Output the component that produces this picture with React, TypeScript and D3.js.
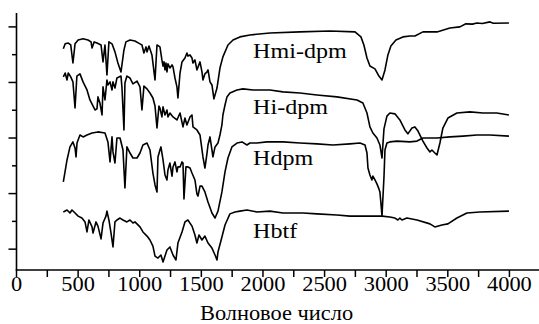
import React from "react";
import * as d3 from "d3";

// x: wavenumber (cm^-1), y: relative transmittance (arbitrary units, offset per trace)
const hmiDpm: [number, number][] = [
  [380, 82.1], [395, 83.9], [420, 84.2], [440, 83.5], [458, 77.0], [475, 83.9], [500, 85.3], [540, 85.7],
  [580, 85.3], [605, 84.6], [613, 82.4], [630, 84.6], [653, 84.2], [686, 83.5], [702, 77.4], [718, 83.5],
  [734, 72.7], [750, 84.6], [775, 83.9], [799, 81.0], [823, 77.0], [848, 73.8], [872, 81.7], [888, 84.6],
  [921, 85.3], [961, 84.9], [1002, 83.9], [1018, 83.5], [1034, 80.6], [1051, 82.8], [1059, 81.0], [1075, 83.1],
  [1099, 79.9], [1124, 70.9], [1140, 83.5], [1164, 82.8], [1180, 78.1], [1189, 75.9], [1197, 77.4], [1205, 74.5],
  [1213, 77.0], [1221, 73.8], [1229, 76.7], [1245, 75.2], [1262, 76.3], [1270, 75.6], [1286, 71.6], [1302, 68.4],
  [1310, 64.4], [1327, 73.4], [1343, 77.4], [1367, 78.8], [1383, 80.6], [1391, 79.5], [1408, 79.9], [1424, 78.8],
  [1432, 77.0], [1448, 78.1], [1464, 74.5], [1489, 77.4], [1505, 73.8], [1513, 70.9], [1529, 73.1], [1546, 73.8],
  [1554, 74.5], [1570, 70.2], [1586, 69.1], [1602, 64.1], [1627, 68.0], [1651, 75.2], [1675, 79.2], [1716, 83.5],
  [1757, 85.3], [1813, 86.4], [1894, 87.1], [2057, 87.8], [2300, 88.2], [2544, 88.5], [2747, 88.2], [2795, 86.4],
  [2819, 83.5], [2844, 78.8], [2868, 75.9], [2909, 74.9], [2941, 72.3], [2966, 70.9], [2990, 74.5], [3014, 79.9],
  [3038, 83.1], [3079, 85.3], [3136, 86.4], [3193, 86.7], [3233, 86.7], [3298, 88.2], [3412, 88.2], [3517, 89.6],
  [3598, 90.0], [3647, 91.1], [3700, 91.0], [3736, 91.4], [3780, 91.2], [3842, 91.8], [3870, 91.3], [3996, 91.4],
];

const hiDpm: [number, number][] = [
  [380, 72.0], [395, 73.4], [410, 70.9], [420, 73.4], [440, 72.0], [458, 70.2], [475, 60.8], [490, 72.3],
  [515, 73.1], [540, 70.2], [572, 67.3], [596, 63.7], [637, 60.1], [653, 60.5], [661, 64.8], [677, 62.6],
  [694, 58.3], [702, 68.4], [718, 63.7], [734, 70.9], [742, 69.1], [759, 70.2], [775, 67.3], [783, 70.2],
  [799, 68.0], [815, 71.6], [848, 72.3], [856, 68.0], [872, 52.9], [880, 69.8], [896, 72.3], [921, 71.6],
  [945, 69.5], [978, 70.5], [1002, 68.4], [1018, 60.1], [1034, 68.7], [1059, 67.7], [1083, 66.2], [1107, 64.4],
  [1124, 61.5], [1140, 53.6], [1156, 61.5], [1164, 60.8], [1180, 57.6], [1189, 61.2], [1205, 58.3], [1221, 60.1],
  [1229, 57.6], [1245, 59.0], [1270, 57.6], [1302, 56.5], [1327, 59.0], [1351, 54.0], [1367, 57.2], [1383, 54.7],
  [1408, 57.6], [1424, 58.3], [1432, 54.0], [1464, 52.9], [1489, 51.1], [1513, 43.2], [1529, 39.2], [1546, 44.6],
  [1554, 47.5], [1570, 50.4], [1586, 45.7], [1594, 43.2], [1611, 46.8], [1635, 48.2], [1651, 51.1], [1667, 54.7],
  [1675, 58.3], [1692, 61.9], [1708, 64.8], [1732, 66.2], [1789, 67.3], [1838, 67.7], [1919, 67.3], [2057, 67.3],
  [2162, 66.6], [2300, 66.2], [2438, 65.5], [2600, 64.8], [2763, 63.7], [2811, 62.6], [2844, 59.0], [2868, 54.0],
  [2892, 51.8], [2925, 50.0], [2949, 47.5], [2966, 42.8], [2982, 53.3], [3006, 57.9], [3030, 59.0], [3071, 58.7],
  [3111, 56.5], [3152, 52.9], [3176, 51.5], [3209, 53.6], [3233, 54.0], [3258, 52.5], [3298, 48.9], [3331, 46.4],
  [3355, 45.0], [3371, 45.7], [3395, 44.6], [3412, 43.9], [3436, 48.2], [3460, 53.6], [3501, 57.2], [3574, 59.0],
  [3679, 59.4], [3785, 59.0], [3898, 59.0], [3996, 58.3],
];

const hDpm: [number, number][] = [
  [380, 34.2], [410, 42.1], [434, 46.8], [458, 48.6], [475, 46.4], [483, 43.2], [491, 48.2], [515, 51.1],
  [540, 50.4], [572, 51.1], [613, 51.8], [661, 52.2], [718, 51.8], [742, 48.6], [759, 41.4], [775, 50.4],
  [783, 45.0], [799, 41.0], [815, 50.0], [840, 50.0], [864, 45.7], [880, 32.0], [896, 46.8], [921, 44.6],
  [945, 42.8], [978, 42.8], [1002, 44.6], [1026, 47.5], [1059, 48.2], [1083, 45.7], [1107, 37.4], [1124, 33.1],
  [1140, 30.6], [1148, 43.2], [1164, 45.7], [1172, 46.8], [1189, 42.1], [1205, 36.7], [1221, 34.9], [1229, 38.5],
  [1245, 41.0], [1262, 36.3], [1270, 39.6], [1286, 41.4], [1302, 37.8], [1310, 39.6], [1327, 39.6], [1343, 41.4],
  [1351, 41.0], [1359, 28.1], [1375, 39.6], [1391, 39.6], [1408, 39.2], [1424, 37.4], [1448, 34.9], [1464, 29.9],
  [1473, 29.1], [1489, 32.7], [1505, 32.7], [1529, 30.6], [1554, 27.0], [1586, 23.0], [1611, 21.2], [1635, 23.7],
  [1667, 30.6], [1692, 37.8], [1716, 42.8], [1748, 46.8], [1789, 48.2], [1830, 48.6], [1870, 47.5], [1894, 48.2],
  [1951, 48.2], [2033, 48.6], [2162, 48.6], [2300, 48.2], [2438, 47.9], [2568, 47.5], [2706, 47.9], [2787, 48.2],
  [2828, 47.5], [2844, 44.6], [2852, 39.2], [2868, 36.7], [2884, 34.9], [2892, 36.3], [2909, 34.9], [2925, 33.5],
  [2941, 31.7], [2949, 30.6], [2957, 26.6], [2966, 22.0], [2982, 36.0], [2990, 45.7], [3006, 48.2], [3030, 48.6],
  [3087, 48.9], [3193, 48.6], [3250, 48.9], [3298, 50.0], [3412, 50.0], [3517, 50.4], [3623, 50.7], [3736, 51.1],
  [3842, 51.1], [3996, 50.7],
];

const hBtf: [number, number][] = [
  [380, 23.4], [410, 24.1], [434, 23.0], [450, 24.1], [475, 23.0], [500, 21.9], [531, 21.2], [556, 19.8],
  [572, 16.2], [588, 20.5], [613, 18.0], [621, 15.8], [645, 19.8], [661, 18.3], [686, 13.7], [702, 19.4],
  [726, 21.9], [734, 23.7], [750, 20.5], [767, 15.8], [783, 10.8], [799, 19.8], [815, 20.5], [840, 21.2],
  [864, 20.5], [896, 19.8], [921, 20.5], [945, 19.4], [961, 19.8], [1002, 18.0], [1026, 16.2], [1059, 14.7],
  [1083, 13.3], [1107, 11.1], [1124, 7.5], [1148, 6.8], [1172, 7.9], [1189, 5.4], [1221, 9.7], [1245, 10.8],
  [1270, 7.9], [1294, 6.1], [1310, 12.2], [1343, 16.2], [1367, 19.8], [1391, 20.5], [1424, 18.3], [1448, 15.1],
  [1464, 12.2], [1481, 15.1], [1505, 13.3], [1529, 14.7], [1554, 12.2], [1586, 10.4], [1611, 7.9], [1627, 6.1],
  [1635, 9.0], [1667, 14.4], [1692, 18.7], [1732, 22.7], [1773, 23.4], [1813, 23.7], [1870, 24.1], [1951, 23.4],
  [2057, 23.7], [2162, 23.0], [2325, 23.0], [2438, 22.7], [2600, 22.3], [2706, 21.9], [2868, 21.9], [2966, 21.9],
  [3030, 21.6], [3071, 21.2], [3095, 20.5], [3111, 21.2], [3128, 20.5], [3168, 21.2], [3250, 20.5], [3355, 19.1],
  [3395, 18.0], [3452, 18.7], [3501, 19.1], [3574, 21.2], [3655, 23.0], [3760, 23.4], [3996, 23.7],
];

const seriesNames = ["Hmi-dpm", "Hi-dpm", "Hdpm", "Hbtf"];
const seriesData = [hmiDpm, hiDpm, hDpm, hBtf];
// label anchor in data units: [wavenumber, y]
const labelWn = [1920, 1920, 1920, 1920];
const labelY = [78.8, 58.7, 40.3, 14.0];

const xTicks = d3.range(0, 4001, 250);
const xTickLabels = [0, 500, 1000, 1500, 2000, 2500, 3000, 3500, 4000];
const yTicks = [10, 20, 30, 40, 50, 60, 70, 80, 90];
const xTitle = "Волновое число";

const W = 539;
const H = 324;
const FONT = '"Liberation Serif", "Times New Roman", Times, serif';
const SX = 1.12;

export default function App() {
  const x = d3.scaleLinear().domain([0, 4240]).range([16.5, 539]);
  const y = d3.scaleLinear().domain([2.5, 95]).range([270, 13]);
  const line = d3
    .line<[number, number]>()
    .x((d) => x(d[0]))
    .y((d) => y(d[1]));

  const x0 = x(0);
  const yBottom = y(2.5);
  const yTop = y(95);
  const textStyle = { fontFamily: FONT };

  return (
    <svg
      width={W}
      height={H}
      style={{ position: "absolute", left: 0, top: 0, background: "#fff" }}
    >
      <rect x={0} y={0} width={W} height={H} fill="#fff" />
      {/* axes */}
      <line x1={x0} x2={x0} y1={yTop} y2={yBottom} stroke="#000" strokeWidth={1.6} />
      <line x1={x0 - 0.8} x2={W} y1={yBottom} y2={yBottom} stroke="#000" strokeWidth={1.6} />
      {yTicks.map((t, i) => (
        <line
          key={"yt" + t}
          x1={x0 - (i % 2 === 0 ? 8 : 4.5)}
          x2={x0}
          y1={y(t)}
          y2={y(t)}
          stroke="#000"
          strokeWidth={1.5}
        />
      ))}
      {xTicks.map((t) => (
        <line
          key={"xt" + t}
          x1={x(t)}
          x2={x(t)}
          y1={yBottom}
          y2={yBottom + 7}
          stroke="#000"
          strokeWidth={1.5}
        />
      ))}
      {xTickLabels.map((t) => (
        <text
          key={"xl" + t}
          transform={`translate(${x(t)},${291}) scale(${SX},1)`}
          textAnchor="middle"
          style={textStyle}
          fontSize={20}
          fill="#000"
        >
          {t}
        </text>
      ))}
      <text
        transform={`translate(${x(2110)},${320}) scale(${SX},1)`}
        textAnchor="middle"
        style={textStyle}
        fontSize={20}
        fill="#000"
      >
        {xTitle}
      </text>
      {/* spectra */}
      {seriesData.map((s, i) => (
        <path
          key={seriesNames[i]}
          d={line(s) || ""}
          fill="none"
          stroke="#000"
          strokeWidth={1.6}
          strokeLinejoin="round"
        />
      ))}
      {seriesNames.map((n, i) => (
        <text
          key={"lab" + n}
          transform={`translate(${x(labelWn[i])},${y(labelY[i])}) scale(${SX},1)`}
          style={textStyle}
          fontSize={21.5}
          fill="#000"
        >
          {n}
        </text>
      ))}
    </svg>
  );
}
